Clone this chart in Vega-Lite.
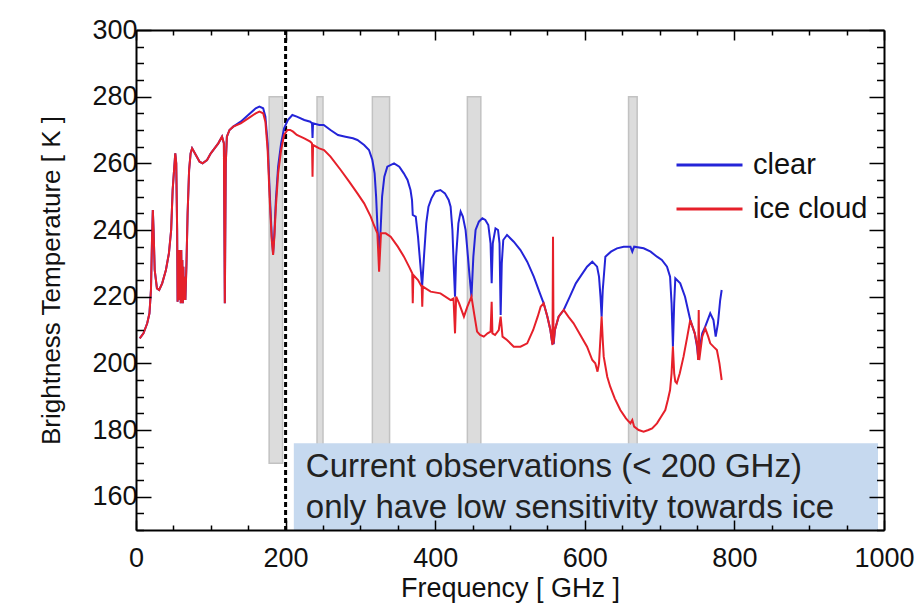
{
  "$schema": "https://vega.github.io/schema/vega-lite/v6.json",
  "width": 748,
  "height": 500,
  "autosize": {"type": "none"},
  "padding": {"left": 136, "top": 30, "right": 35, "bottom": 76},
  "background": "white",
  "config": {"view": {"stroke": null}, "font": "Liberation Sans"},
  "datasets": {
    "bands": [
      {"lo": 178, "hi": 196},
      {"lo": 242, "hi": 250},
      {"lo": 316, "hi": 339},
      {"lo": 443, "hi": 461},
      {"lo": 658.5, "hi": 670}
    ],
    "spectra": [
      {"series": "clear", "f": 5, "T": 207.5}, {"series": "clear", "f": 10, "T": 209}, {"series": "clear", "f": 15, "T": 212}, {"series": "clear", "f": 18, "T": 215}, {"series": "clear", "f": 20, "T": 222}, {"series": "clear", "f": 21.5, "T": 238}, {"series": "clear", "f": 22.5, "T": 246}, {"series": "clear", "f": 23.5, "T": 240}, {"series": "clear", "f": 25, "T": 228}, {"series": "clear", "f": 28, "T": 222.5}, {"series": "clear", "f": 31, "T": 222}, {"series": "clear", "f": 35, "T": 224}, {"series": "clear", "f": 40, "T": 228}, {"series": "clear", "f": 44, "T": 233}, {"series": "clear", "f": 47, "T": 240}, {"series": "clear", "f": 49, "T": 252}, {"series": "clear", "f": 52.5, "T": 263}, {"series": "clear", "f": 53.8, "T": 260}, {"series": "clear", "f": 55, "T": 240}, {"series": "clear", "f": 55.6, "T": 218.5}, {"series": "clear", "f": 56.3, "T": 233}, {"series": "clear", "f": 57, "T": 221}, {"series": "clear", "f": 57.7, "T": 234}, {"series": "clear", "f": 58.4, "T": 219}, {"series": "clear", "f": 59.1, "T": 232}, {"series": "clear", "f": 59.8, "T": 218}, {"series": "clear", "f": 60.5, "T": 234}, {"series": "clear", "f": 61.2, "T": 219}, {"series": "clear", "f": 61.9, "T": 231}, {"series": "clear", "f": 62.6, "T": 218}, {"series": "clear", "f": 63.3, "T": 229}, {"series": "clear", "f": 64, "T": 219}, {"series": "clear", "f": 65, "T": 226}, {"series": "clear", "f": 66, "T": 219}, {"series": "clear", "f": 67.5, "T": 230}, {"series": "clear", "f": 69, "T": 245}, {"series": "clear", "f": 71, "T": 258}, {"series": "clear", "f": 73, "T": 263}, {"series": "clear", "f": 75, "T": 264.5}, {"series": "clear", "f": 80, "T": 262.5}, {"series": "clear", "f": 85, "T": 260.5}, {"series": "clear", "f": 89, "T": 260}, {"series": "clear", "f": 95, "T": 261}, {"series": "clear", "f": 100, "T": 263}, {"series": "clear", "f": 105, "T": 264.5}, {"series": "clear", "f": 110, "T": 266}, {"series": "clear", "f": 115, "T": 268}, {"series": "clear", "f": 117.5, "T": 266}, {"series": "clear", "f": 118.75, "T": 218}, {"series": "clear", "f": 120, "T": 260}, {"series": "clear", "f": 121.5, "T": 268}, {"series": "clear", "f": 125, "T": 270}, {"series": "clear", "f": 130, "T": 271}, {"series": "clear", "f": 140, "T": 272.5},
      {"series": "clear", "f": 150, "T": 274.5}, {"series": "clear", "f": 160, "T": 276.5}, {"series": "clear", "f": 165, "T": 277}, {"series": "clear", "f": 170, "T": 276.5}, {"series": "clear", "f": 173, "T": 274}, {"series": "clear", "f": 176, "T": 266}, {"series": "clear", "f": 179, "T": 250}, {"series": "clear", "f": 181.5, "T": 238}, {"series": "clear", "f": 183.3, "T": 233}, {"series": "clear", "f": 185, "T": 239}, {"series": "clear", "f": 187, "T": 249}, {"series": "clear", "f": 190, "T": 259}, {"series": "clear", "f": 194, "T": 266}, {"series": "clear", "f": 198, "T": 270.5}, {"series": "clear", "f": 203, "T": 273}, {"series": "clear", "f": 209, "T": 274.5}, {"series": "clear", "f": 215, "T": 274}, {"series": "clear", "f": 225, "T": 273}, {"series": "clear", "f": 233, "T": 272.5}, {"series": "clear", "f": 235.3, "T": 272}, {"series": "clear", "f": 236, "T": 267.6}, {"series": "clear", "f": 236.7, "T": 272}, {"series": "clear", "f": 245, "T": 271.5}, {"series": "clear", "f": 251, "T": 271.5}, {"series": "clear", "f": 260, "T": 270}, {"series": "clear", "f": 270, "T": 268.5}, {"series": "clear", "f": 280, "T": 268}, {"series": "clear", "f": 290, "T": 267.5}, {"series": "clear", "f": 296, "T": 267}, {"series": "clear", "f": 305, "T": 265.5}, {"series": "clear", "f": 311.5, "T": 264}, {"series": "clear", "f": 316, "T": 261}, {"series": "clear", "f": 319, "T": 257}, {"series": "clear", "f": 321, "T": 250}, {"series": "clear", "f": 323, "T": 240}, {"series": "clear", "f": 325, "T": 234}, {"series": "clear", "f": 327, "T": 240}, {"series": "clear", "f": 329, "T": 250}, {"series": "clear", "f": 332, "T": 256}, {"series": "clear", "f": 336, "T": 259}, {"series": "clear", "f": 345, "T": 260}, {"series": "clear", "f": 352, "T": 259}, {"series": "clear", "f": 358, "T": 257}, {"series": "clear", "f": 363, "T": 255}, {"series": "clear", "f": 367, "T": 252}, {"series": "clear", "f": 369, "T": 249}, {"series": "clear", "f": 370, "T": 244.5}, {"series": "clear", "f": 374, "T": 244}, {"series": "clear", "f": 377, "T": 238}, {"series": "clear", "f": 380, "T": 230}, {"series": "clear", "f": 382.5, "T": 223}, {"series": "clear", "f": 385, "T": 232}, {"series": "clear", "f": 388, "T": 242}, {"series": "clear", "f": 391, "T": 247}, {"series": "clear", "f": 395, "T": 249.5}, {"series": "clear", "f": 400, "T": 251.5}, {"series": "clear", "f": 407, "T": 252}, {"series": "clear", "f": 413, "T": 251}, {"series": "clear", "f": 418, "T": 249}, {"series": "clear", "f": 420.6, "T": 247}, {"series": "clear", "f": 423, "T": 240}, {"series": "clear", "f": 425, "T": 228}, {"series": "clear", "f": 426.5, "T": 220}, {"series": "clear", "f": 428, "T": 232}, {"series": "clear", "f": 431, "T": 242}, {"series": "clear", "f": 434, "T": 245.5}, {"series": "clear", "f": 437, "T": 244}, {"series": "clear", "f": 440.6, "T": 240}, {"series": "clear", "f": 443, "T": 234}, {"series": "clear", "f": 446, "T": 226}, {"series": "clear", "f": 448.5, "T": 220}, {"series": "clear", "f": 451, "T": 232}, {"series": "clear", "f": 454, "T": 240}, {"series": "clear", "f": 458.4, "T": 242.5}, {"series": "clear", "f": 463, "T": 243.5}, {"series": "clear", "f": 467, "T": 243}, {"series": "clear", "f": 471, "T": 241.5}, {"series": "clear", "f": 474, "T": 236}, {"series": "clear", "f": 475.5, "T": 224}, {"series": "clear", "f": 477, "T": 236}, {"series": "clear", "f": 480.6, "T": 240.5}, {"series": "clear", "f": 484, "T": 240}, {"series": "clear", "f": 486, "T": 236}, {"series": "clear", "f": 487.5, "T": 214.5}, {"series": "clear", "f": 489, "T": 230}, {"series": "clear", "f": 491, "T": 237}, {"series": "clear", "f": 496, "T": 238.5}, {"series": "clear", "f": 505, "T": 236.5}, {"series": "clear", "f": 514, "T": 234}, {"series": "clear", "f": 523, "T": 230.5}, {"series": "clear", "f": 531.8, "T": 226}, {"series": "clear", "f": 540, "T": 221}, {"series": "clear", "f": 545, "T": 218}, {"series": "clear", "f": 550, "T": 214}, {"series": "clear", "f": 554, "T": 210}, {"series": "clear", "f": 556.5, "T": 206}, {"series": "clear", "f": 558.5, "T": 206}, {"series": "clear", "f": 560, "T": 210}, {"series": "clear", "f": 565, "T": 214}, {"series": "clear", "f": 571.8, "T": 216}, {"series": "clear", "f": 580, "T": 220}, {"series": "clear", "f": 588, "T": 224}, {"series": "clear", "f": 594, "T": 226}, {"series": "clear", "f": 603, "T": 229}, {"series": "clear", "f": 610, "T": 230.5}, {"series": "clear", "f": 616.4, "T": 229}, {"series": "clear", "f": 619, "T": 226}, {"series": "clear", "f": 621, "T": 220}, {"series": "clear", "f": 622.5, "T": 214}, {"series": "clear", "f": 624, "T": 222}, {"series": "clear", "f": 627.5, "T": 232}, {"series": "clear", "f": 635, "T": 233.5}, {"series": "clear", "f": 643, "T": 234.5}, {"series": "clear", "f": 652, "T": 235}, {"series": "clear", "f": 661, "T": 235}, {"series": "clear", "f": 663.5, "T": 233.5}, {"series": "clear", "f": 666, "T": 235}, {"series": "clear", "f": 678.7, "T": 234.5}, {"series": "clear", "f": 688, "T": 233.5}, {"series": "clear", "f": 696.5, "T": 232}, {"series": "clear", "f": 703, "T": 231}, {"series": "clear", "f": 709.9, "T": 229}, {"series": "clear", "f": 714, "T": 226}, {"series": "clear", "f": 716, "T": 218}, {"series": "clear", "f": 717.8, "T": 205}, {"series": "clear", "f": 719.5, "T": 218}, {"series": "clear", "f": 721, "T": 225.5}, {"series": "clear", "f": 727.6, "T": 224}, {"series": "clear", "f": 734, "T": 220}, {"series": "clear", "f": 741, "T": 213}, {"series": "clear", "f": 747, "T": 209}, {"series": "clear", "f": 750, "T": 205}, {"series": "clear", "f": 752, "T": 201}, {"series": "clear", "f": 754, "T": 205}, {"series": "clear", "f": 757, "T": 209}, {"series": "clear", "f": 761, "T": 211}, {"series": "clear", "f": 767.7, "T": 215}, {"series": "clear", "f": 772, "T": 213}, {"series": "clear", "f": 775, "T": 208}, {"series": "clear", "f": 778, "T": 212}, {"series": "clear", "f": 781, "T": 219}, {"series": "clear", "f": 783, "T": 222},
      {"series": "ice cloud", "f": 5, "T": 207.5}, {"series": "ice cloud", "f": 10, "T": 209}, {"series": "ice cloud", "f": 15, "T": 212}, {"series": "ice cloud", "f": 18, "T": 215}, {"series": "ice cloud", "f": 20, "T": 222}, {"series": "ice cloud", "f": 21.5, "T": 238}, {"series": "ice cloud", "f": 22.5, "T": 246}, {"series": "ice cloud", "f": 23.5, "T": 240}, {"series": "ice cloud", "f": 25, "T": 228}, {"series": "ice cloud", "f": 28, "T": 222.5}, {"series": "ice cloud", "f": 31, "T": 222}, {"series": "ice cloud", "f": 35, "T": 224}, {"series": "ice cloud", "f": 40, "T": 228}, {"series": "ice cloud", "f": 44, "T": 233}, {"series": "ice cloud", "f": 47, "T": 240}, {"series": "ice cloud", "f": 49, "T": 252}, {"series": "ice cloud", "f": 52.5, "T": 263}, {"series": "ice cloud", "f": 53.8, "T": 260}, {"series": "ice cloud", "f": 55, "T": 240}, {"series": "ice cloud", "f": 55.6, "T": 218.5}, {"series": "ice cloud", "f": 56.3, "T": 233}, {"series": "ice cloud", "f": 57, "T": 221}, {"series": "ice cloud", "f": 57.7, "T": 234}, {"series": "ice cloud", "f": 58.4, "T": 219}, {"series": "ice cloud", "f": 59.1, "T": 232}, {"series": "ice cloud", "f": 59.8, "T": 218}, {"series": "ice cloud", "f": 60.5, "T": 234}, {"series": "ice cloud", "f": 61.2, "T": 219}, {"series": "ice cloud", "f": 61.9, "T": 231}, {"series": "ice cloud", "f": 62.6, "T": 218}, {"series": "ice cloud", "f": 63.3, "T": 229}, {"series": "ice cloud", "f": 64, "T": 219}, {"series": "ice cloud", "f": 65, "T": 226}, {"series": "ice cloud", "f": 66, "T": 219}, {"series": "ice cloud", "f": 67.5, "T": 230}, {"series": "ice cloud", "f": 69, "T": 245}, {"series": "ice cloud", "f": 71, "T": 258}, {"series": "ice cloud", "f": 73, "T": 263}, {"series": "ice cloud", "f": 75, "T": 264.5}, {"series": "ice cloud", "f": 80, "T": 262.5}, {"series": "ice cloud", "f": 85, "T": 260.5}, {"series": "ice cloud", "f": 89, "T": 260}, {"series": "ice cloud", "f": 95, "T": 261}, {"series": "ice cloud", "f": 100, "T": 263}, {"series": "ice cloud", "f": 105, "T": 264.5}, {"series": "ice cloud", "f": 110, "T": 266}, {"series": "ice cloud", "f": 115, "T": 268}, {"series": "ice cloud", "f": 117.5, "T": 266}, {"series": "ice cloud", "f": 118.75, "T": 218}, {"series": "ice cloud", "f": 120, "T": 260}, {"series": "ice cloud", "f": 121.5, "T": 268}, {"series": "ice cloud", "f": 125, "T": 270}, {"series": "ice cloud", "f": 130, "T": 271}, {"series": "ice cloud", "f": 140, "T": 272},
      {"series": "ice cloud", "f": 150, "T": 273.5}, {"series": "ice cloud", "f": 160, "T": 275}, {"series": "ice cloud", "f": 165, "T": 275.5}, {"series": "ice cloud", "f": 170, "T": 275}, {"series": "ice cloud", "f": 173, "T": 272.5}, {"series": "ice cloud", "f": 176, "T": 264}, {"series": "ice cloud", "f": 179, "T": 248}, {"series": "ice cloud", "f": 181.5, "T": 237}, {"series": "ice cloud", "f": 183.3, "T": 232.5}, {"series": "ice cloud", "f": 185, "T": 238}, {"series": "ice cloud", "f": 187, "T": 247}, {"series": "ice cloud", "f": 190, "T": 257}, {"series": "ice cloud", "f": 194, "T": 264}, {"series": "ice cloud", "f": 198, "T": 268.5}, {"series": "ice cloud", "f": 202.5, "T": 270}, {"series": "ice cloud", "f": 206, "T": 270}, {"series": "ice cloud", "f": 210, "T": 269.5}, {"series": "ice cloud", "f": 215, "T": 268.5}, {"series": "ice cloud", "f": 225, "T": 267.5}, {"series": "ice cloud", "f": 233, "T": 266.5}, {"series": "ice cloud", "f": 235.3, "T": 266}, {"series": "ice cloud", "f": 236, "T": 256}, {"series": "ice cloud", "f": 236.7, "T": 265.5}, {"series": "ice cloud", "f": 245, "T": 264.5}, {"series": "ice cloud", "f": 251.4, "T": 264}, {"series": "ice cloud", "f": 260, "T": 262}, {"series": "ice cloud", "f": 273.7, "T": 258}, {"series": "ice cloud", "f": 285, "T": 254.5}, {"series": "ice cloud", "f": 296, "T": 251}, {"series": "ice cloud", "f": 305, "T": 248}, {"series": "ice cloud", "f": 313.8, "T": 244}, {"series": "ice cloud", "f": 318, "T": 241.5}, {"series": "ice cloud", "f": 322.7, "T": 239}, {"series": "ice cloud", "f": 325, "T": 227.5}, {"series": "ice cloud", "f": 327.5, "T": 239}, {"series": "ice cloud", "f": 333.8, "T": 239}, {"series": "ice cloud", "f": 340.5, "T": 238}, {"series": "ice cloud", "f": 350, "T": 235}, {"series": "ice cloud", "f": 358.2, "T": 232}, {"series": "ice cloud", "f": 365, "T": 229}, {"series": "ice cloud", "f": 369.3, "T": 227}, {"series": "ice cloud", "f": 370, "T": 218}, {"series": "ice cloud", "f": 370.8, "T": 226.5}, {"series": "ice cloud", "f": 377, "T": 225}, {"series": "ice cloud", "f": 382, "T": 223}, {"series": "ice cloud", "f": 382.7, "T": 217}, {"series": "ice cloud", "f": 383.5, "T": 223}, {"series": "ice cloud", "f": 393.9, "T": 221.5}, {"series": "ice cloud", "f": 407, "T": 221}, {"series": "ice cloud", "f": 420.6, "T": 219}, {"series": "ice cloud", "f": 424.5, "T": 219.5}, {"series": "ice cloud", "f": 426.5, "T": 209}, {"series": "ice cloud", "f": 428, "T": 220}, {"series": "ice cloud", "f": 432, "T": 218}, {"series": "ice cloud", "f": 438.4, "T": 214}, {"series": "ice cloud", "f": 443, "T": 217}, {"series": "ice cloud", "f": 448.5, "T": 220}, {"series": "ice cloud", "f": 452, "T": 215}, {"series": "ice cloud", "f": 456, "T": 209.5}, {"series": "ice cloud", "f": 460, "T": 208.5}, {"series": "ice cloud", "f": 465, "T": 208}, {"series": "ice cloud", "f": 470, "T": 209}, {"series": "ice cloud", "f": 474, "T": 209.5}, {"series": "ice cloud", "f": 475.5, "T": 218.5}, {"series": "ice cloud", "f": 476.5, "T": 209}, {"series": "ice cloud", "f": 480, "T": 208.5}, {"series": "ice cloud", "f": 485, "T": 210}, {"series": "ice cloud", "f": 487.5, "T": 214}, {"series": "ice cloud", "f": 490, "T": 208}, {"series": "ice cloud", "f": 496, "T": 207}, {"series": "ice cloud", "f": 505, "T": 205}, {"series": "ice cloud", "f": 514, "T": 205}, {"series": "ice cloud", "f": 523, "T": 206}, {"series": "ice cloud", "f": 531, "T": 210}, {"series": "ice cloud", "f": 537, "T": 214}, {"series": "ice cloud", "f": 541, "T": 217}, {"series": "ice cloud", "f": 545, "T": 218}, {"series": "ice cloud", "f": 550, "T": 214}, {"series": "ice cloud", "f": 554, "T": 210}, {"series": "ice cloud", "f": 556.8, "T": 205.5}, {"series": "ice cloud", "f": 557.5, "T": 238}, {"series": "ice cloud", "f": 558.2, "T": 206}, {"series": "ice cloud", "f": 560, "T": 210}, {"series": "ice cloud", "f": 565, "T": 214}, {"series": "ice cloud", "f": 571.8, "T": 216}, {"series": "ice cloud", "f": 578, "T": 214}, {"series": "ice cloud", "f": 585, "T": 212}, {"series": "ice cloud", "f": 594, "T": 208.5}, {"series": "ice cloud", "f": 603, "T": 205}, {"series": "ice cloud", "f": 610, "T": 201}, {"series": "ice cloud", "f": 614, "T": 200}, {"series": "ice cloud", "f": 617, "T": 197.5}, {"series": "ice cloud", "f": 619, "T": 200}, {"series": "ice cloud", "f": 621, "T": 208}, {"series": "ice cloud", "f": 622.5, "T": 214}, {"series": "ice cloud", "f": 624, "T": 207}, {"series": "ice cloud", "f": 625.3, "T": 202}, {"series": "ice cloud", "f": 630, "T": 196}, {"series": "ice cloud", "f": 634, "T": 193}, {"series": "ice cloud", "f": 640, "T": 189.5}, {"series": "ice cloud", "f": 647.5, "T": 186}, {"series": "ice cloud", "f": 655, "T": 183.5}, {"series": "ice cloud", "f": 661, "T": 182}, {"series": "ice cloud", "f": 663.5, "T": 183}, {"series": "ice cloud", "f": 666, "T": 181}, {"series": "ice cloud", "f": 672, "T": 180}, {"series": "ice cloud", "f": 678.6, "T": 179.5}, {"series": "ice cloud", "f": 685, "T": 180}, {"series": "ice cloud", "f": 690, "T": 180.5}, {"series": "ice cloud", "f": 696.5, "T": 182}, {"series": "ice cloud", "f": 702, "T": 184}, {"series": "ice cloud", "f": 707.6, "T": 186}, {"series": "ice cloud", "f": 711, "T": 189}, {"series": "ice cloud", "f": 714, "T": 192}, {"series": "ice cloud", "f": 716, "T": 197}, {"series": "ice cloud", "f": 717.8, "T": 205}, {"series": "ice cloud", "f": 719.5, "T": 197}, {"series": "ice cloud", "f": 721, "T": 194.5}, {"series": "ice cloud", "f": 723, "T": 194}, {"series": "ice cloud", "f": 727, "T": 197}, {"series": "ice cloud", "f": 732, "T": 202}, {"series": "ice cloud", "f": 737, "T": 208}, {"series": "ice cloud", "f": 741, "T": 213}, {"series": "ice cloud", "f": 747, "T": 209}, {"series": "ice cloud", "f": 750.5, "T": 205}, {"series": "ice cloud", "f": 751.5, "T": 201}, {"series": "ice cloud", "f": 752.3, "T": 216}, {"series": "ice cloud", "f": 753, "T": 201}, {"series": "ice cloud", "f": 757, "T": 208}, {"series": "ice cloud", "f": 761, "T": 210.5}, {"series": "ice cloud", "f": 765, "T": 208}, {"series": "ice cloud", "f": 767.7, "T": 206}, {"series": "ice cloud", "f": 772, "T": 205}, {"series": "ice cloud", "f": 776.6, "T": 204}, {"series": "ice cloud", "f": 780, "T": 200}, {"series": "ice cloud", "f": 783, "T": 195}
    ]
  },
  "layer": [
    {
      "data": {"name": "bands"},
      "mark": {"type": "rect", "fill": "#dcdcdc", "stroke": "#c2c2c2", "strokeWidth": 1.5},
      "encoding": {
        "x": {"field": "lo", "type": "quantitative", "scale": {"domain": [0, 1000], "nice": false, "zero": false},
          "axis": {"orient": "top", "values": [0,50,100,150,200,250,300,350,400,450,500,550,600,650,700,750,800,850,900,950,1000],
            "labels": false, "title": null, "grid": false, "zindex": 1, "domainColor": "black", "domainWidth": 2, "tickColor": "black", "tickWidth": 1.5,
            "tickSize": {"condition": {"test": "datum.value % 200 === 0", "value": -10}, "value": -5}}},
        "x2": {"field": "hi"},
        "y": {"datum": 280, "type": "quantitative", "scale": {"domain": [150, 300], "nice": false, "zero": false},
          "axis": {"orient": "right", "values": [150,155,160,165,170,175,180,185,190,195,200,205,210,215,220,225,230,235,240,245,250,255,260,265,270,275,280,285,290,295,300],
            "labels": false, "title": null, "grid": false, "zindex": 1, "domainColor": "black", "domainWidth": 2, "tickColor": "black", "tickWidth": 1.5,
            "tickSize": {"condition": {"test": "datum.value % 20 === 0", "value": -15}, "value": -7.5}}},
        "y2": {"datum": 170}
      }
    },
    {
      "data": {"values": [{}]},
      "mark": {"type": "rule", "color": "black", "strokeWidth": 3, "strokeDash": [5, 3]},
      "encoding": {"x": {"datum": 200, "type": "quantitative", "axis": null}}
    },
    {
      "data": {"values": [{}]},
      "mark": {"type": "rect", "color": "#c6d9ef"},
      "encoding": {
        "x": {"datum": 211, "type": "quantitative", "axis": null},
        "x2": {"datum": 992},
        "y": {"datum": 176, "type": "quantitative", "axis": null},
        "y2": {"datum": 150}
      }
    },
    {
      "data": {"values": [{}]},
      "mark": {"type": "text", "align": "left", "baseline": "middle", "fontSize": 33, "lineHeight": 41, "color": "#222222", "text": ["Current observations (< 200 GHz)", "only have low sensitivity towards ice"]},
      "encoding": {
        "x": {"datum": 227, "type": "quantitative", "axis": null},
        "y": {"datum": 168.9, "type": "quantitative", "axis": null}
      }
    },
    {
      "data": {"name": "spectra"},
      "mark": {"type": "line", "strokeWidth": 2, "interpolate": "linear"},
      "encoding": {
        "x": {"field": "f", "type": "quantitative",
          "axis": {"orient": "bottom", "values": [0,50,100,150,200,250,300,350,400,450,500,550,600,650,700,750,800,850,900,950,1000],
            "format": "d", "labelExpr": "datum.value % 200 === 0 ? datum.label : ''", "labelFontSize": 27, "labelColor": "#111111", "labelPadding": 25, "labelFlush": false, "labelOverlap": false,
            "title": "Frequency [ GHz ]", "titleFontSize": 27, "titleFontWeight": "normal", "titleColor": "#111111", "titlePadding": -1,
            "grid": false, "zindex": 1, "domainColor": "black", "domainWidth": 2, "tickColor": "black", "tickWidth": 1.5,
            "tickSize": {"condition": {"test": "datum.value % 200 === 0", "value": -10}, "value": -5}}},
        "y": {"field": "T", "type": "quantitative",
          "axis": {"orient": "left", "values": [150,155,160,165,170,175,180,185,190,195,200,205,210,215,220,225,230,235,240,245,250,255,260,265,270,275,280,285,290,295,300],
            "format": "d", "labelExpr": "datum.value % 20 === 0 ? datum.label : ''", "labelFontSize": 27, "labelColor": "#111111", "labelPadding": 14, "labelFlush": false, "labelOverlap": false,
            "title": "Brightness Temperature [ K ]", "titleFontSize": 26, "titleFontWeight": "normal", "titleColor": "#111111", "titlePadding": 27,
            "grid": false, "zindex": 1, "domainColor": "black", "domainWidth": 2, "tickColor": "black", "tickWidth": 1.5,
            "tickSize": {"condition": {"test": "datum.value % 20 === 0", "value": -15}, "value": -7.5}}},
        "color": {"field": "series", "type": "nominal",
          "scale": {"domain": ["clear", "ice cloud"], "range": ["#2424d8", "#e6202a"]},
          "legend": {"orient": "none", "legendX": 539, "legendY": 113, "title": null, "symbolType": "stroke", "symbolSize": 4356, "symbolStrokeWidth": 3,
            "labelFontSize": 29, "labelOffset": 9, "labelColor": "#111111", "rowPadding": 0, "clipHeight": 44, "padding": 0}}
      }
    }
  ],
  "resolve": {"axis": {"x": "independent", "y": "independent"}}
}
